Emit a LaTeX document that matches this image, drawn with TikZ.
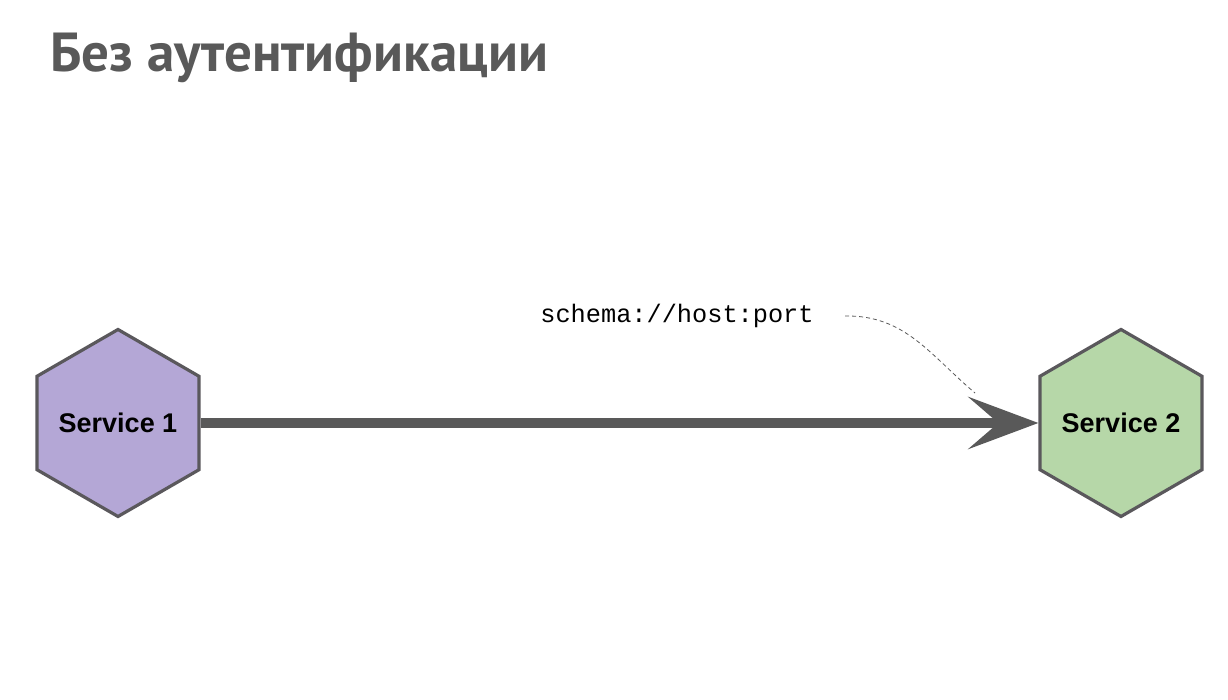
\documentclass[tikz,border=0pt]{standalone}
\usepackage{fontspec}
\setmainfont{PT Sans}
\newfontfamily\labelfont{Liberation Sans}
\setmonofont{Liberation Mono}
\usetikzlibrary{arrows.meta,positioning,shapes.geometric}
\definecolor{ink}{HTML}{595959}
\definecolor{svcpurple}{HTML}{B4A7D6}
\definecolor{svcgreen}{HTML}{B6D7A8}
\definecolor{hexline}{HTML}{5A585C}
\tikzset{
  hexbox/.style={regular polygon, regular polygon sides=6, shape border rotate=30,
                 minimum size=187pt, inner sep=-12pt, draw=hexline, line width=3.2pt,
                 font=\labelfont\bfseries\fontsize{27}{27}\selectfont},
  purplehex/.style={hexbox, fill=svcpurple},
  greenhex/.style={hexbox, fill=svcgreen},
  bigar/.style={-{Stealth[length=70pt, width=52pt, inset=30pt]}, line width=9.5pt, draw=ink},
  note/.style={dash pattern=on 4pt off 3pt, line width=0.8pt, draw=ink}
}

\begin{document}
\begin{tikzpicture}[x=1pt, y=1pt]
  \useasboundingbox (0,0) rectangle (1228,700);
  % title
  \node[anchor=base west, inner sep=0pt, text=ink,
        font=\bfseries\fontsize{55}{55}\selectfont] (title) at (50,628) {Без аутентификации};
  % services
  \node[purplehex] (s1) at (118,277) {Service 1};
  \node[greenhex] (s2) at (1121,277) {Service 2};
  \draw[bigar] (s1.east) -- (s2.west);
  % address label
  \node[font=\ttfamily\fontsize{25.3}{25.3}\selectfont] (url) at (677,384) {schema://host:port};
  \coordinate (barb) at (975,307);
  \draw[note] ([xshift=28pt]url.east) .. controls (905,385) and (930,345) .. (barb);
\end{tikzpicture}
\end{document}
